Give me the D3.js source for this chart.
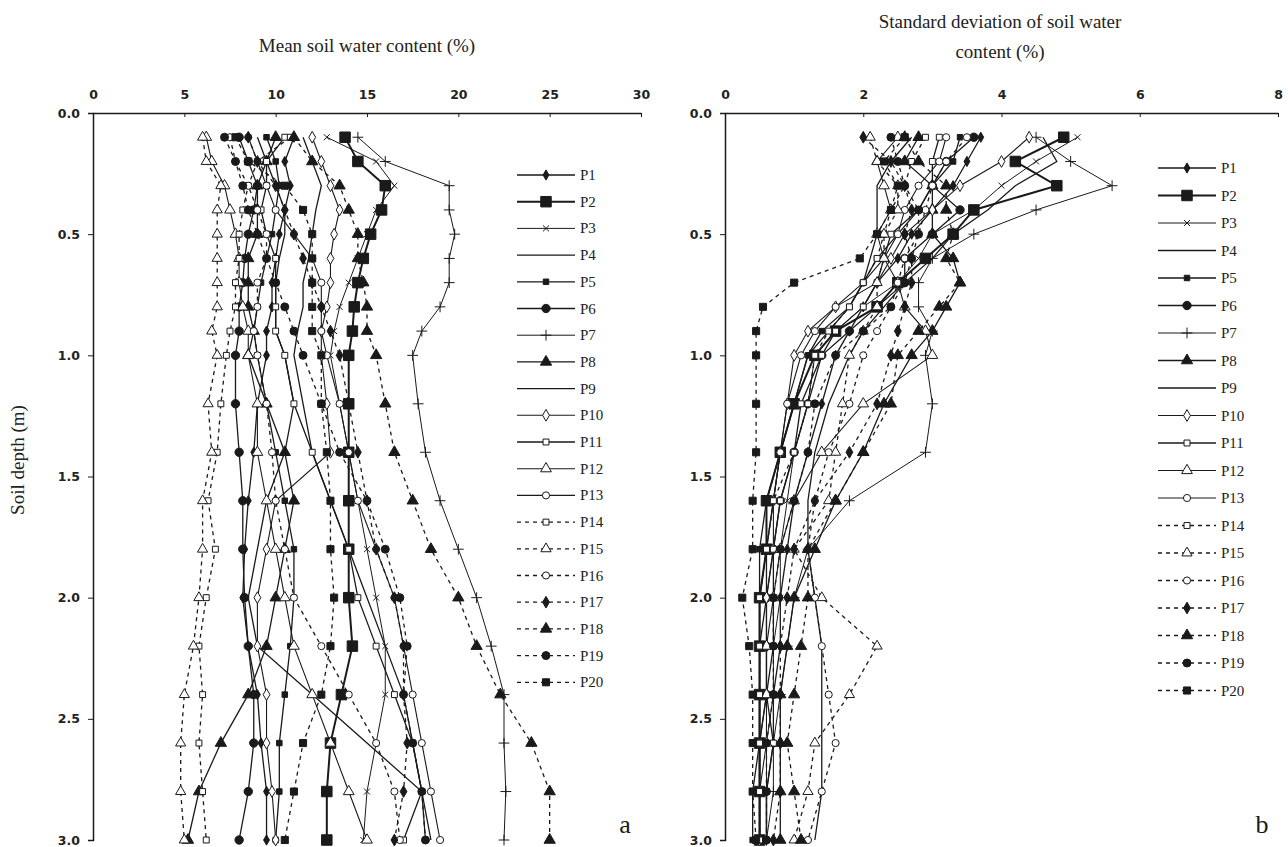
<!DOCTYPE html>
<html lang="en">
<head>
<meta charset="UTF-8"/>
<title>Soil water content profiles</title>
<script src="https://cdnjs.cloudflare.com/ajax/libs/d3/7.8.5/d3.min.js"></script>
<style>
  body { margin: 0; background: #fff; }
  .tick text { font-family: "DejaVu Sans", sans-serif; font-weight: bold; font-size: 12.5px; fill: #222; }
  .title { font-family: "Liberation Serif", serif; font-size: 19px; fill: #222; }
  .leg { font-family: "Liberation Serif", serif; font-size: 15px; fill: #222; }
</style>
</head>
<body>
<script>
// depths of the measurements (m)
var depths = [0.1, 0.2, 0.3, 0.4, 0.5, 0.6, 0.7, 0.8, 0.9, 1.0, 1.2, 1.4, 1.6, 1.8, 2.0, 2.2, 2.4, 2.6, 2.8, 3.0];
var names = ["P1","P2","P3","P4","P5","P6","P7","P8","P9","P10","P11","P12","P13","P14","P15","P16","P17","P18","P19","P20"];
var meanTicks = [0, 5, 10, 15, 20, 25, 30];
var sdTicks = [0, 2, 4, 6, 8];
var depthTicks = [0, 0.5, 1.0, 1.5, 2.0, 2.5, 3.0];

// mean soil water content (%), one row per site
var meanValues = [
  [11.0,10.5,10.8,10.5,10.2,10.0,9.8,9.8,9.5,9.5,9.0,8.8,8.5,8.3,8.2,8.5,9.0,9.2,9.5,9.5],
  [13.8,14.5,16.0,15.8,15.2,14.8,14.5,14.3,14.2,14.0,14.0,14.0,14.0,14.0,14.0,14.2,13.6,13.0,12.8,12.8],
  [12.8,15.5,16.5,15.5,15.0,14.5,14.0,13.5,13.2,13.0,13.5,14.0,14.5,15.0,15.5,16.0,16.0,15.5,15.0,14.8],
  [11.5,12.0,12.5,12.2,12.0,11.8,11.5,11.5,11.2,11.0,11.5,12.0,13.0,14.0,15.0,16.0,17.0,17.5,18.0,18.2],
  [9.5,10.0,10.2,10.0,9.8,9.5,9.2,9.0,8.8,9.0,9.5,10.0,10.5,11.0,11.0,10.8,10.5,10.2,10.2,10.0],
  [8.0,8.5,9.0,8.8,8.5,8.3,8.2,8.0,8.0,7.8,7.8,8.0,8.2,8.2,8.3,8.5,8.8,8.8,8.5,8.0],
  [14.5,16.0,19.5,19.5,19.8,19.5,19.5,19.0,18.0,17.5,17.8,18.2,19.0,20.0,21.0,21.8,22.5,22.5,22.6,22.5],
  [10.0,9.5,9.0,9.0,9.0,8.5,8.5,8.5,8.8,8.5,9.5,10.5,11.0,10.5,10.0,9.5,8.5,7.0,5.8,5.2],
  [9.0,9.5,10.0,10.5,10.5,10.2,10.0,10.0,10.0,10.5,11.0,10.5,9.5,9.0,8.5,9.0,12.0,15.0,18.0,18.5],
  [12.0,12.5,13.0,13.5,13.2,13.0,13.0,12.8,12.5,12.5,12.8,13.0,10.0,9.5,9.0,9.0,9.5,9.5,9.8,10.0],
  [10.5,9.5,9.5,9.2,9.5,10.0,10.0,10.0,10.0,10.5,11.0,12.0,13.0,14.0,14.5,15.5,16.5,17.5,18.0,17.0],
  [6.2,6.5,7.2,7.5,7.8,8.0,8.0,8.2,8.5,8.5,9.0,9.0,9.5,10.0,10.5,11.0,12.0,13.0,14.0,15.0],
  [8.5,9.0,9.5,10.0,11.0,12.0,12.5,12.5,12.5,12.8,13.5,14.0,14.5,15.5,16.5,17.0,17.5,18.0,18.5,19.0],
  [10.8,9.0,8.5,8.2,8.0,8.0,7.8,7.8,7.5,7.3,7.0,6.8,6.3,6.7,6.2,5.8,6.0,5.8,6.0,6.2],
  [6.0,6.2,7.0,6.8,6.8,6.8,6.8,6.8,6.5,6.8,6.3,6.5,6.0,6.0,5.8,5.5,5.0,4.8,4.8,5.0],
  [7.5,7.8,8.5,9.0,9.5,9.5,9.0,9.0,8.8,9.0,9.5,9.8,10.0,10.5,11.0,12.5,14.0,15.5,16.5,16.8],
  [8.5,9.0,10.0,10.5,11.0,11.5,12.0,12.5,13.0,13.5,14.0,14.5,15.0,15.5,16.5,17.0,17.0,17.2,17.0,16.5],
  [11.0,12.0,13.5,14.0,14.5,14.5,14.8,15.0,15.0,15.5,16.0,16.5,17.5,18.5,20.0,21.0,22.3,24.0,25.0,25.0],
  [7.2,7.8,8.2,8.5,9.0,9.5,10.0,10.5,11.0,11.5,12.5,13.5,15.0,16.0,16.8,17.2,17.0,17.5,18.0,18.2],
  [7.8,8.5,10.5,11.5,12.0,12.0,12.0,12.0,12.0,12.5,12.5,12.8,13.0,13.0,13.2,13.0,12.5,11.5,11.0,10.5]
];

// standard deviation of soil water content (%)
var sdValues = [
  [3.7,3.5,3.3,3.0,2.7,2.5,2.2,2.0,1.8,1.6,1.4,1.2,1.0,0.9,0.8,0.8,0.7,0.7,0.6,0.6],
  [4.9,4.2,4.8,3.6,3.3,2.9,2.5,2.2,1.6,1.3,1.0,0.8,0.6,0.6,0.5,0.5,0.5,0.5,0.5,0.5],
  [5.1,4.5,4.0,3.6,3.0,2.8,2.5,2.0,1.6,1.3,1.2,1.0,0.9,0.8,0.8,0.7,0.7,0.6,0.6,0.6],
  [4.6,4.8,4.2,3.8,3.3,3.0,2.6,2.3,2.0,1.8,1.5,1.3,1.2,1.2,1.3,1.4,1.4,1.4,1.4,1.3],
  [3.4,3.3,3.0,2.8,2.5,2.2,2.0,1.8,1.4,1.2,1.0,0.8,0.6,0.5,0.5,0.5,0.5,0.5,0.4,0.4],
  [3.6,3.2,3.0,3.4,3.0,2.6,2.6,2.2,1.8,1.4,1.2,1.0,0.8,0.7,0.6,0.6,0.6,0.5,0.5,0.5],
  [4.5,5.0,5.6,4.5,3.6,3.0,2.8,2.8,3.0,2.9,3.0,2.9,1.8,1.2,1.0,0.9,0.8,0.7,0.7,0.6],
  [2.8,2.6,3.0,3.0,3.0,3.3,3.4,3.2,3.0,2.7,2.3,2.0,1.6,1.3,1.0,0.9,0.8,0.8,0.8,0.8],
  [2.7,2.4,2.2,2.2,2.2,2.1,2.0,1.8,1.5,1.2,1.0,0.8,0.7,0.6,0.6,0.5,0.5,0.5,0.5,0.5],
  [4.4,4.0,3.4,3.0,2.6,2.4,2.2,1.6,1.2,1.0,0.9,0.8,0.7,0.7,0.6,0.6,0.6,0.5,0.5,0.5],
  [3.1,3.0,3.0,2.8,2.4,2.3,2.2,2.0,1.6,1.4,1.1,1.0,0.8,0.7,0.7,0.7,0.6,0.7,0.6,0.6],
  [2.5,2.2,2.3,2.4,2.2,2.3,2.5,2.6,2.9,3.0,2.0,1.4,1.0,0.8,0.7,0.6,0.6,0.6,0.5,0.5],
  [3.2,3.1,2.8,2.6,2.5,2.3,2.0,1.6,1.3,1.1,0.9,0.8,0.7,0.6,0.5,0.5,0.5,0.5,0.5,0.5],
  [2.9,2.7,2.6,2.4,2.3,2.2,2.0,1.8,1.5,1.3,1.2,1.0,0.7,0.6,0.5,0.5,0.5,0.5,0.5,0.5],
  [2.1,2.2,2.5,2.5,2.3,2.3,2.2,2.2,2.0,1.8,1.7,1.6,1.5,1.0,1.4,2.2,1.8,1.3,1.2,1.0],
  [3.5,3.2,3.0,2.9,2.8,2.6,2.5,2.4,2.2,2.0,1.8,1.5,1.3,1.2,1.3,1.4,1.5,1.6,1.4,1.2],
  [2.0,2.4,2.6,2.7,2.6,2.7,2.7,2.6,2.5,2.4,2.2,1.8,1.3,1.0,0.9,0.8,0.8,0.8,0.8,0.7],
  [2.6,2.8,3.2,3.2,3.3,3.2,3.4,3.1,2.8,2.5,2.4,2.0,1.6,1.2,1.2,1.1,1.0,0.9,1.0,1.1],
  [2.4,2.5,2.6,2.8,2.8,2.7,2.6,2.4,2.0,1.6,1.3,1.2,1.0,0.8,0.7,0.7,0.7,0.6,0.6,0.6],
  [2.6,2.3,2.5,2.4,2.2,1.95,1.0,0.55,0.45,0.45,0.45,0.45,0.4,0.4,0.25,0.35,0.4,0.4,0.4,0.45]
];

// marker look for each site: symbol, filled or not, size, dashed line
var styles = [
  {sym: d3.symbolDiamond, fill: true, size: 30, dash: false, w: 1.3},
  {sym: d3.symbolSquare, fill: true, size: 110, dash: false, w: 2},
  {sym: d3.symbolTimes, fill: false, size: 25, dash: false, w: 1},
  {sym: null, fill: true, size: 0, dash: false, w: 1.3},
  {sym: d3.symbolSquare, fill: true, size: 30, dash: false, w: 1.3},
  {sym: d3.symbolCircle, fill: true, size: 55, dash: false, w: 1.3},
  {sym: d3.symbolPlus, fill: false, size: 40, dash: false, w: 1},
  {sym: d3.symbolTriangle, fill: true, size: 55, dash: false, w: 1.3},
  {sym: null, fill: true, size: 0, dash: false, w: 1.3},
  {sym: d3.symbolDiamond, fill: false, size: 40, dash: false, w: 1.1},
  {sym: d3.symbolSquare, fill: false, size: 35, dash: false, w: 1.3},
  {sym: d3.symbolTriangle, fill: false, size: 50, dash: false, w: 1.1},
  {sym: d3.symbolCircle, fill: false, size: 40, dash: false, w: 1.1},
  {sym: d3.symbolSquare, fill: false, size: 35, dash: true, w: 1.3},
  {sym: d3.symbolTriangle, fill: false, size: 45, dash: true, w: 1.3},
  {sym: d3.symbolCircle, fill: false, size: 40, dash: true, w: 1.3},
  {sym: d3.symbolDiamond, fill: true, size: 40, dash: true, w: 1.3},
  {sym: d3.symbolTriangle, fill: true, size: 55, dash: true, w: 1.3},
  {sym: d3.symbolCircle, fill: true, size: 50, dash: true, w: 1.3},
  {sym: d3.symbolSquare, fill: true, size: 50, dash: true, w: 1.3}
];

var ink = "#1a1a1a";
var svg = d3.select("body").append("svg")
  .attr("width", 1288).attr("height", 847);

var y = d3.scaleLinear().domain([0, 3]).range([113, 840]);

function drawPanel(values, x, ticks, legX, legY, legStep, letter) {
  var g = svg.append("g");

  // top axis, ticks point into the plot
  g.append("g").attr("transform", "translate(0,113)")
    .call(d3.axisTop(x).tickValues(ticks).tickSizeInner(-4).tickSizeOuter(0).tickPadding(14).tickFormat(d3.format("d")))
    .call(function(s){ s.select(".domain").attr("stroke", ink).attr("stroke-width", 1.3); s.selectAll("line").attr("stroke", ink); });

  g.append("g").attr("transform", "translate(" + x.range()[0] + ",0)")
    .call(d3.axisLeft(y).tickValues(depthTicks).tickSize(5).tickPadding(8).tickFormat(d3.format(".1f")))
    .call(function(s){ s.select(".domain").attr("stroke", ink).attr("stroke-width", 1.5); s.selectAll("line").attr("stroke", ink); });

  var line = d3.line().x(function(d){ return x(d[0]); }).y(function(d){ return y(d[1]); });

  values.forEach(function(vals, i) {
    var st = styles[i];
    var pts = vals.map(function(v, j){ return [v, depths[j]]; });
    g.append("path").attr("d", line(pts))
      .attr("fill", "none").attr("stroke", ink).attr("stroke-width", st.w)
      .attr("stroke-dasharray", st.dash ? "4,4" : null);
    if (st.sym) {
      g.selectAll(null).data(pts).enter().append("path")
        .attr("d", d3.symbol().type(st.sym).size(st.size))
        .attr("transform", function(d){ return "translate(" + x(d[0]) + "," + y(d[1]) + ")"; })
        .attr("fill", st.fill ? ink : "#fff").attr("stroke", ink).attr("stroke-width", 1);
    }
  });

  // legend
  names.forEach(function(n, i) {
    var st = styles[i];
    var ly = legY + i * legStep;
    g.append("line").attr("x1", legX).attr("x2", legX + 58).attr("y1", ly).attr("y2", ly)
      .attr("stroke", ink).attr("stroke-width", st.w)
      .attr("stroke-dasharray", st.dash ? "4,4" : null);
    if (st.sym) {
      g.append("path").attr("d", d3.symbol().type(st.sym).size(st.size))
        .attr("transform", "translate(" + (legX + 29) + "," + ly + ")")
        .attr("fill", st.fill ? ink : "#fff").attr("stroke", ink).attr("stroke-width", 1);
    }
    g.append("text").attr("class", "leg").attr("x", legX + 63).attr("y", ly + 5).text(n);
  });

  g.append("text").attr("x", x.range()[1] - 16).attr("y", 833)
    .attr("text-anchor", "middle").attr("font-family", "Liberation Serif, serif")
    .attr("font-size", 26).attr("fill", ink).text(letter);
}

var xMean = d3.scaleLinear().domain([0, 30]).range([93, 641]);
var xSd = d3.scaleLinear().domain([0, 8]).range([725, 1278]);

drawPanel(meanValues, xMean, meanTicks, 517, 175, 26.7, "a");
drawPanel(sdValues, xSd, sdTicks, 1158, 168, 27.5, "b");

svg.append("text").attr("class", "title").attr("x", 367).attr("y", 52)
  .attr("text-anchor", "middle").text("Mean soil water content (%)");
svg.append("text").attr("class", "title").attr("x", 1000).attr("y", 28)
  .attr("text-anchor", "middle").text("Standard deviation of soil water");
svg.append("text").attr("class", "title").attr("x", 1000).attr("y", 58)
  .attr("text-anchor", "middle").text("content (%)");
svg.append("text").attr("class", "title")
  .attr("transform", "translate(24,460) rotate(-90)")
  .attr("text-anchor", "middle").text("Soil depth (m)");
</script>
</body>
</html>
